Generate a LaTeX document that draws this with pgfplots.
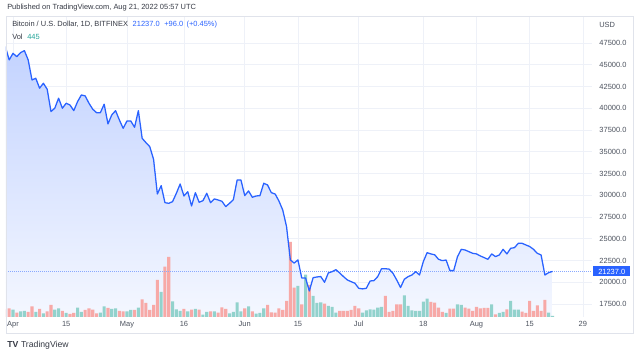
\documentclass[border=0pt]{standalone}
\usepackage{pgfplots}
\pgfplotsset{compat=1.18}
\usepackage{pgfplotstable}
\usepackage{fontspec}
\setmainfont{Liberation Sans}
\definecolor{tvblue}{HTML}{2962FF}
\definecolor{tvgrid}{HTML}{EEF1F8}
\definecolor{tvtext}{HTML}{363A45}
\definecolor{tvlabel}{HTML}{4C525E}
\definecolor{tvframe}{HTML}{E0E3EB}
\definecolor{barred}{HTML}{F7A9A7}
\definecolor{barteal}{HTML}{92D2CC}
\definecolor{tvteal}{HTML}{26A69A}
\definecolor{areatop}{RGB}{195,211,255}
\definecolor{areabot}{RGB}{244,247,255}

\pgfplotstableread{
d p
-2 47080
-1 45550
0 46310
1 45930
2 46390
3 46620
4 45550
5 43250
6 43440
7 42300
8 42870
9 42180
10 39620
11 40000
12 41150
13 40000
14 40570
15 40370
16 39720
17 40760
18 41520
19 41410
20 40570
21 39880
22 39490
23 39490
24 40460
25 38190
26 39230
27 39720
28 38650
29 37690
30 38530
31 38530
32 37810
33 39720
34 36540
35 36040
36 35580
37 34130
38 30140
39 31100
40 29140
41 29070
42 29260
43 30220
44 31290
45 29910
46 30400
47 28760
48 30290
49 29190
50 29370
51 30220
52 29140
53 29570
54 29450
55 29300
56 28690
57 29070
58 29490
59 31750
60 31750
61 29950
62 30490
63 29760
64 29910
65 29950
66 31370
67 31180
68 30290
69 30140
70 29330
71 28300
72 26390
73 22560
74 22200
75 22560
76 20490
77 20490
78 18990
79 20520
80 20600
81 20650
82 19990
83 21060
84 21210
85 21440
86 21060
87 20640
88 20260
89 20060
90 19880
91 19300
92 19230
93 19300
94 20140
95 20180
96 20640
97 21550
98 21550
99 21500
100 21030
101 20260
102 19380
103 20340
104 20640
105 20830
106 21210
107 20830
108 22360
109 23400
110 23250
111 23150
112 22630
113 22480
114 22550
115 21330
116 21330
117 22940
118 23780
119 23700
120 23510
121 23320
122 23250
123 23020
124 22830
125 22630
126 23250
127 22940
128 23130
129 23780
130 23250
131 23900
132 23970
133 24470
134 24470
135 24280
136 24100
137 23780
138 23320
139 23130
140 20830
141 21100
142 21237
}\price

\pgfplotstableread{
d v
-2 23
-1 26
1 13
4 15
5 32
7 24
9 17
10 36
13 18
15 9
16 12
19 21
20 26
21 22
22 11
25 27
28 18
29 17
32 21
34 53
35 42
36 21
37 36
38 111
40 151
41 180
45 24
47 22
49 22
52 17
54 13
55 29
56 24
61 26
63 17
67 36
68 14
69 13
70 26
71 21
72 48
73 225
74 88
76 38
78 96
82 40
86 18
87 18
88 18
89 21
90 33
91 26
98 63
99 15
100 18
101 38
102 38
110 45
111 43
112 28
113 15
115 25
116 25
119 28
120 25
121 18
122 30
123 26
124 27
125 27
127 8
130 23
134 16
135 12
136 48
137 18
138 35
139 18
140 51
}\volred

\pgfplotstableread{
d v
0 22
2 17
3 18
6 15
8 11
11 22
12 26
14 12
17 28
18 15
23 13
24 32
26 24
27 26
30 17
31 21
33 28
39 75
42 47
43 23
44 18
46 17
48 24
50 7
51 15
53 17
57 11
58 15
59 44
60 17
62 32
64 10
65 12
66 26
75 93
77 127
79 63
80 42
81 44
83 33
84 30
85 13
92 13
93 20
94 23
95 22
96 28
97 30
103 65
104 33
105 20
106 18
107 18
108 46
109 55
114 12
117 38
118 36
126 38
128 12
129 15
131 48
132 22
133 22
141 13
142 3
}\volteal

\newcommand{\fs}{\fontsize{5.6}{6.5}\selectfont}

\begin{document}
\begin{tikzpicture}[x=1pt,y=1pt]
\useasboundingbox (0,0) rectangle (480,267);
\fill[white] (0,0) rectangle (480,267);

\pgfplotsset{tvaxis/.style={
  at={(4.5pt,29.25pt)}, anchor=south west,
  scale only axis, width=439.5pt, height=225.75pt,
  xmin=-1.84, xmax=152.4,
}}

% price axis with grid and fill
\begin{axis}[tvaxis,
  ymin=16000, ymax=50600,
  scaled y ticks=false,
  axis line style={draw=none},
  tick style={draw=none},
  xtick={0,14,30,45,61,75,91,108,122,136,150},
  xticklabels={Apr,15,May,16,Jun,15,Jul,18,Aug,15,29},
  ytick={17500,20000,22500,25000,27500,30000,32500,35000,37500,40000,42500,45000,47500},
  yticklabels={17500.0,20000.0,22500.0,25000.0,27500.0,30000.0,32500.0,35000.0,37500.0,40000.0,42500.0,45000.0,47500.0},
  yticklabel pos=right,
  grid=major,
  major grid style={tvgrid, line width=0.5pt},
  /pgf/number format/assume math mode=true,
  ticklabel style={font=\fs, text=tvlabel},
  xticklabel style={anchor=base, yshift=-7.5pt, inner sep=0pt},
  yticklabel style={anchor=west, xshift=5.4pt, inner sep=0pt},
]
\addplot[draw=none, top color=areatop, bottom color=areabot]
  table[x=d, y=p]{\price} -- (axis cs:142,16000) -- (axis cs:-2,16000) -- cycle;
\end{axis}

% volume axis
\begin{axis}[tvaxis, hide axis, ymin=0, ymax=903, ybar, bar width=2.3pt]
\addplot[bar shift=0pt, fill=barred, draw=none] table[x=d, y=v]{\volred};
\addplot[bar shift=0pt, fill=barteal, draw=none] table[x=d, y=v]{\volteal};
\end{axis}

% price line
\begin{axis}[tvaxis, hide axis, ymin=16000, ymax=50600]
\addplot[tvblue!55, line width=0.5pt, dash pattern=on 0.5pt off 1pt] coordinates {(-1.84,21237) (152.4,21237)};
\addplot[tvblue, line width=0.95pt, line join=round] table[x=d, y=p]{\price};
\coordinate (lp) at (axis cs:152.4,21237);
\end{axis}

\node[fill=tvblue, text=white, font=\fs, inner sep=0pt, minimum width=27.75pt, minimum height=7.5pt, anchor=west] at ([xshift=0.75pt]lp) {21237.0};

% frame
\draw[tvframe, line width=0.5pt] (4.5,17.25) rectangle (474.75,255);

% texts
\node[anchor=west, font=\fs, text=tvtext, inner sep=0pt] at (5.25,261) {Published on TradingView.com, Aug 21, 2022 05:57 UTC};
\node[anchor=west, font=\fs, inner sep=0pt] at (9,248.25) {\textcolor{tvtext}{Bitcoin / U.S. Dollar, 1D, BITFINEX}\hspace{3.5pt}\textcolor{tvblue}{21237.0\hspace{3.5pt}+96.0\hspace{2.5pt}(+0.45\%)}};
\node[anchor=west, font=\fs, inner sep=0pt] at (9,239.25) {\textcolor{tvtext}{Vol}\hspace{3.5pt}\textcolor{tvteal}{445}};
\node[anchor=west, font=\fs, text=tvlabel, inner sep=0pt] at (449.25,248.25) {USD};
\node[anchor=west, font=\fontsize{6.5}{7}\selectfont, text=tvtext, inner sep=0pt] at (5.25,8.25) {\textbf{TV}\hspace{2pt}TradingView};
\end{tikzpicture}
\end{document}
